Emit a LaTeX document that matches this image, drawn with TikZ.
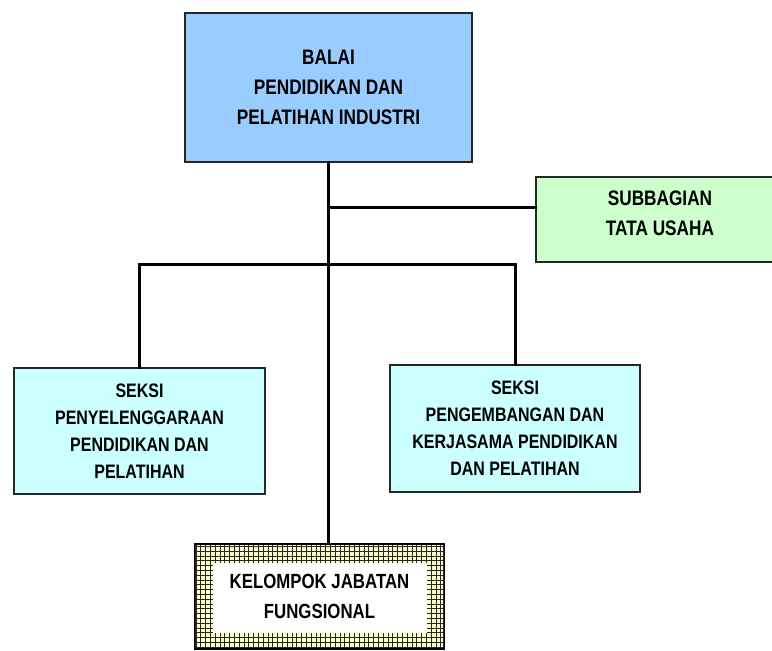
\documentclass[tikz,border=0pt]{standalone}
\usepackage{fontspec}
\setmainfont{Liberation Sans}[FakeStretch=0.82]
\usetikzlibrary{calc}

\definecolor{topblue}{HTML}{99CCFF}
\definecolor{subgreen}{HTML}{CCFFCC}
\definecolor{seksicyan}{HTML}{CCFFFF}
\definecolor{gridcream}{HTML}{FFFFCC}

\tikzset{
  unit/.style={draw=black!85, line width=1.3pt, align=center, inner sep=0pt,
    font=\bfseries\fontsize{21}{30}\selectfont},
  link/.style={line width=3pt, line cap=rect},
}

\begin{document}
\begin{tikzpicture}[x=1pt,y=-1pt]
  \useasboundingbox (0,0) rectangle (772,651);
  \clip (0,0) rectangle (772,651);

  \node[unit, fill=topblue, minimum width=287pt, minimum height=149pt] (N0) at (328.5,87.5)
    {BALAI\\PENDIDIKAN DAN\\PELATIHAN INDUSTRI};
  \node[unit, fill=subgreen, minimum width=248pt, minimum height=85pt] (N1) at ($(N0)+(331.5,132)$)
    {SUBBAGIAN\\TATA USAHA\\[-18pt]};
  \node[unit, fill=seksicyan, minimum width=251pt, minimum height=126pt,
    font=\bfseries\fontsize{19.5}{27}\selectfont] (N2) at ($(N0)+(-189,343.5)$)
    {SEKSI\\PENYELENGGARAAN\\PENDIDIKAN DAN\\PELATIHAN};
  \node[unit, fill=seksicyan, minimum width=250pt, minimum height=127pt,
    font=\bfseries\fontsize{19.5}{27}\selectfont] (N3) at ($(N0)+(186.5,341)$)
    {SEKSI\\PENGEMBANGAN DAN\\KERJASAMA PENDIDIKAN\\DAN PELATIHAN};
  \node[unit, minimum width=249pt, minimum height=104pt,
    font=\bfseries\fontsize{20.5}{30}\selectfont,
    path picture={
      \fill[gridcream] (path picture bounding box.north west) rectangle (path picture bounding box.south east);
      \draw[line width=1pt, step=4.8pt] (path picture bounding box.north west) grid (path picture bounding box.south east);
      \fill[white] ($(path picture bounding box.north west)+(18,18)$) rectangle ($(path picture bounding box.south east)+(-17,-16)$);
    }] (N4) at ($(N0)+(-9,509)$)
    {KELOMPOK JABATAN\\FUNGSIONAL};
  \draw[line width=1.6pt] (N4.north west) rectangle (N4.south east);

  \coordinate (J1) at ($(N0.south)+(0,45)$);
  \coordinate (J2) at ($(N0.south)+(0,102)$);

  \draw[link] (N0.south) -- (N0.south |- N4.north);
  \draw[link] (J1) -- (J1 -| N1.west);
  \draw[link] (N2.north) |- (J2) -| (N3.north);
\end{tikzpicture}
\end{document}
